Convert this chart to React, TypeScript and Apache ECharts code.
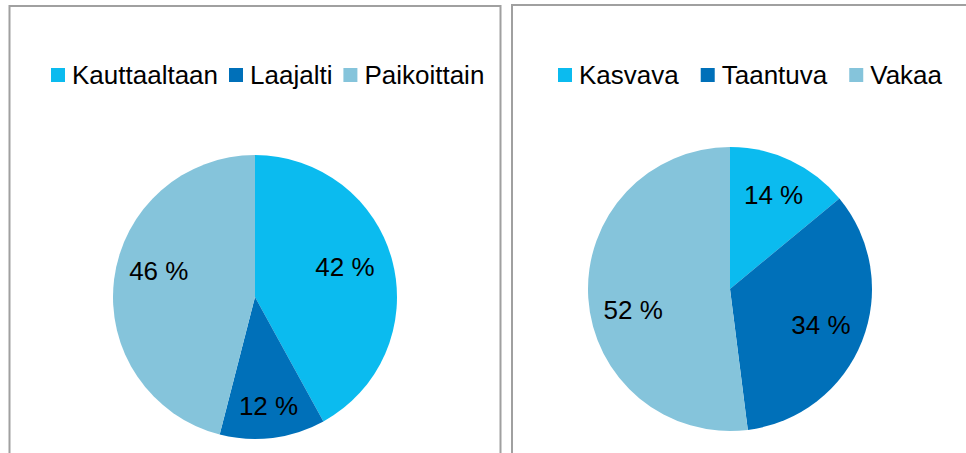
import React, { useEffect, useRef } from "react";
import * as echarts from "echarts";

const leftCategories = ["Kauttaaltaan", "Laajalti", "Paikoittain"];
const leftValues = [42, 12, 46];
const rightCategories = ["Kasvava", "Taantuva", "Vakaa"];
const rightValues = [14, 34, 52];
const colors = ["#0BBBEF", "#0070B9", "#85C4DB"];

// label nudges to mimic Excel's placement
const leftLabelShift = [
  { dx: -7, dy: -5 },
  { dx: 1, dy: 10 },
  { dx: 3, dy: -13 },
];
const rightLabelShift = [
  { dx: 1, dy: -4 },
  { dx: -2, dy: -1 },
  { dx: 3, dy: 15 },
];

const FONT = "Arial, 'Liberation Sans', sans-serif";

export default function App() {
  const ref = useRef<HTMLDivElement>(null);
  useEffect(() => {
    if (!ref.current) return;
    const chart = echarts.init(ref.current, undefined, { renderer: "svg" });
    const mk = (names: string[], vals: number[]) =>
      names.map((n, i) => ({ name: n, value: vals[i] }));
    const pieBase = (center: number[], names: string[], vals: number[]) => ({
      type: "pie",
      center,
      radius: [0, 142],
      startAngle: 90,
      clockwise: true,
      silent: true,
      color: colors,
      label: { show: false },
      labelLine: { show: false },
      itemStyle: { borderWidth: 0 },
      data: mk(names, vals),
    });
    const labelPie = (
      center: number[],
      names: string[],
      vals: number[],
      shift: { dx: number; dy: number }[]
    ) => ({
      type: "pie",
      center,
      radius: [0, 194],
      startAngle: 90,
      clockwise: true,
      silent: true,
      z: 5,
      itemStyle: { color: "transparent", borderWidth: 0 },
      label: {
        show: true,
        position: "inner",
        formatter: (p: any) => `${p.value} %`,
        fontSize: 26,
        fontFamily: FONT,
        color: "#000",
      },
      labelLine: { show: false },
      labelLayout: (p: any) => shift[p.dataIndex],
      data: mk(names, vals),
    });
    const legendText = { fontSize: 26, fontFamily: FONT, color: "#000", padding: [0, 0, 0, 2] };
    chart.setOption({
      animation: false,
      backgroundColor: "#fff",
      legend: [
        {
          data: leftCategories,
          left: 51,
          top: 62,
          padding: 0,
          itemWidth: 14,
          itemHeight: 14,
          itemGap: 11,
          icon: "rect",
          selectedMode: false,
          textStyle: legendText,
        },
        {
          data: rightCategories,
          left: 558,
          top: 62,
          padding: 0,
          itemWidth: 14,
          itemHeight: 14,
          itemGap: 22,
          icon: "rect",
          selectedMode: false,
          textStyle: legendText,
        },
      ],
      graphic: [
        {
          type: "rect",
          shape: { x: 9.5, y: 6, width: 491, height: 470 },
          style: { fill: "none", stroke: "#a0a0a0", lineWidth: 2 },
          silent: true,
        },
        {
          type: "rect",
          shape: { x: 512, y: 5, width: 470, height: 470 },
          style: { fill: "none", stroke: "#a0a0a0", lineWidth: 2 },
          silent: true,
        },
      ],
      series: [
        pieBase([255, 297], leftCategories, leftValues),
        pieBase([730, 289], rightCategories, rightValues),
        labelPie([255, 297], leftCategories, leftValues, leftLabelShift),
        labelPie([730, 289], rightCategories, rightValues, rightLabelShift),
      ],
    });
    return () => chart.dispose();
  }, []);
  return (
    <div
      ref={ref}
      style={{ position: "fixed", left: 0, top: 0, width: 966, height: 453 }}
    />
  );
}
